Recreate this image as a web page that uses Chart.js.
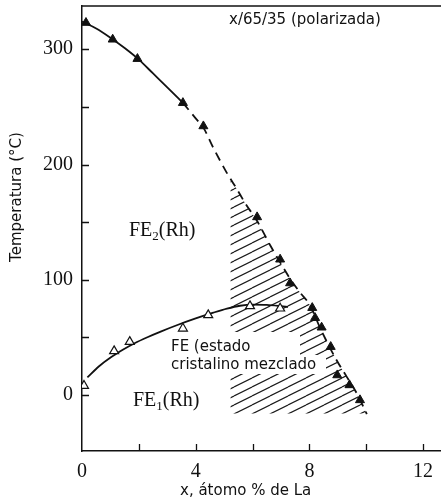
<!DOCTYPE html>
<html>
<head>
<meta charset="utf-8">
<script src="https://cdn.jsdelivr.net/npm/chart.js@4.4.1/dist/chart.umd.min.js"></script>
<style>
html,body{margin:0;padding:0;background:#fff;}
#wrap{position:relative;width:441px;height:501px;}
</style>
</head>
<body>
<div id="wrap"><canvas id="c" width="441" height="501"></canvas></div>
<script>
// ---- data ----
// FE2 transition (filled triangles)
const fe2MarkX = [0.14, 1.08, 1.95, 3.55, 4.27, 6.16, 6.97, 7.32, 8.10, 8.20, 8.43, 8.75, 8.98, 9.41, 9.78];
const fe2MarkY = [323, 308.5, 291.7, 253.5, 233.3, 154.4, 117.7, 97.1, 75.7, 67.0, 58.7, 41.9, 17.3, 8.7, -4.3];
// FE1 transition (open triangles)
const fe1MarkX = [0.07, 1.13, 1.68, 3.55, 4.44, 5.91, 6.97];
const fe1MarkY = [8.1, 38.2, 46.2, 57.8, 69.4, 77.2, 75.2];
// FE2 boundary curve: solid part
const fe2SolidX = [0, 0.5, 1, 1.5, 2, 2.5, 3, 3.55];
const fe2SolidY = [324, 318, 310, 301, 291, 279, 267, 253.5];
// FE2 boundary curve: dashed part
const fe2DashX = [3.55, 4.0, 4.27, 4.61, 5.09, 5.44, 5.74, 6.16, 6.62, 7.0, 7.32, 7.67, 8.02, 8.4, 8.94, 9.31, 9.7, 10.02];
const fe2DashY = [253.5, 240, 232, 215, 193, 179, 166.5, 151, 130, 114, 101, 89, 78, 57, 31, 16, 0, -16.5];
// FE1 boundary curve
const fe1CurveX = [0.19, 0.6, 1.03, 1.45, 1.85, 2.3, 2.79, 3.38, 4.0, 4.62, 5.1, 5.56, 6.0, 6.5, 7.0, 7.25];
const fe1CurveY = [15.4, 25, 33, 39.5, 45, 50.2, 55.3, 61, 66.5, 71.5, 75, 77.5, 78.5, 78.3, 77.2, 76.5];
// mixed-state hatched region (upper edge; filled down to hatchBase)
const hatchX = [5.22, 5.44, 5.74, 6.16, 6.62, 7.0, 7.32, 7.67, 8.02, 8.4, 8.94, 9.31, 9.7, 10.02];
const hatchY = [188, 179, 166.5, 151, 130, 114, 101, 89, 78, 57, 31, 16, 0, -16.5];
const hatchBase = -16;
// axes
const xMin = 0, xMax = 12.63, yMin = -48.5, yMax = 337.5;
const xTickLabels = [0, 4, 8, 12];
const yTickLabels = [0, 100, 200, 300];
const xTickMarks = [2, 4, 6, 8, 10, 12];
const yTickMarks = [0, 50, 100, 150, 200, 250, 300];
const xTitle = 'x, átomo % de La';
const yTitle = 'Temperatura (°C)';
const boxTitle = 'x/65/35 (polarizada)';
const mixedLabel = ['FE (estado', 'cristalino mezclado'];

const pts = (xs, ys) => xs.map((x, i) => ({x: x, y: ys[i]}));

function makeHatch() {
  const c = document.createElement('canvas');
  c.width = 18; c.height = 9;
  const g = c.getContext('2d');
  g.strokeStyle = '#1a1a1a';
  g.lineWidth = 1.15;
  for (const k of [-1, 0, 1]) {
    g.beginPath();
    g.moveTo(0, 9 + 9 * k);
    g.lineTo(18, 0 + 9 * k);
    g.stroke();
  }
  return g.createPattern(c, 'repeat');
}

const SANS = '"DejaVu Sans", sans-serif';
const SERIF = '"Liberation Serif", "Times New Roman", serif';

function drawSubLabel(ctx, x, y, a, sub, b) {
  ctx.font = '20px ' + SERIF;
  ctx.textAlign = 'left';
  ctx.textBaseline = 'alphabetic';
  ctx.fillText(a, x, y);
  let w = ctx.measureText(a).width;
  ctx.font = '13px ' + SERIF;
  ctx.fillText(sub, x + w, y + 4);
  w += ctx.measureText(sub).width;
  ctx.font = '20px ' + SERIF;
  ctx.fillText(b, x + w, y);
}

const decor = {
  id: 'decor',
  afterDatasetDraw(chart, args) {
    if (args.index !== 5) return;
    const ctx = chart.ctx;
    ctx.save();
    ctx.fillStyle = '#ffffff';
    ctx.fillRect(168, 332, 132, 23);
    ctx.fillRect(168, 355, 158, 19);
    ctx.restore();
  },
  afterDraw(chart) {
    const ctx = chart.ctx;
    const a = chart.chartArea;
    const xs = chart.scales.x, ys = chart.scales.y;
    ctx.save();
    ctx.strokeStyle = '#111';
    // top frame
    ctx.lineWidth = 1.5;
    ctx.beginPath();
    ctx.moveTo(a.left, a.top);
    ctx.lineTo(a.right, a.top);
    ctx.stroke();
    // inward ticks
    ctx.lineWidth = 1.3;
    ctx.beginPath();
    for (const v of yTickMarks) {
      const p = Math.round(ys.getPixelForValue(v)) + 0.5;
      ctx.moveTo(a.left, p);
      ctx.lineTo(a.left + 7, p);
    }
    for (const v of xTickMarks) {
      const p = Math.round(xs.getPixelForValue(v)) + 0.5;
      ctx.moveTo(p, a.bottom);
      ctx.lineTo(p, a.bottom - 7);
    }
    ctx.stroke();
    // texts
    ctx.fillStyle = '#111';
    drawSubLabel(ctx, 129, 236, 'FE', '2', '(Rh)');
    drawSubLabel(ctx, 133, 406, 'FE', '1', '(Rh)');
    ctx.font = '15px ' + SANS;
    ctx.textAlign = 'left';
    ctx.textBaseline = 'alphabetic';
    ctx.fillText(boxTitle, 229, 24);
    ctx.fillText(xTitle, 180, 495);
    ctx.fillText(mixedLabel[0], 171, 351);
    ctx.fillText(mixedLabel[1], 171, 369);
    ctx.save();
    ctx.translate(21, 197);
    ctx.rotate(-Math.PI / 2);
    ctx.textAlign = 'center';
    ctx.font = '15px ' + SANS;
    ctx.fillText(yTitle, 0, 0);
    ctx.restore();
    ctx.restore();
  }
};

new Chart(document.getElementById('c'), {
  type: 'scatter',
  data: {
    datasets: [
      { data: pts(fe2MarkX, fe2MarkY), pointStyle: 'triangle', pointRadius: 5.2,
        backgroundColor: '#111', borderColor: '#111', borderWidth: 1, showLine: false, order: 0 },
      { data: pts(fe1MarkX, fe1MarkY), pointStyle: 'triangle', pointRadius: 5.2,
        backgroundColor: '#fff', borderColor: '#111', borderWidth: 1.2, showLine: false, order: 0 },
      { data: pts(fe2SolidX, fe2SolidY), showLine: true, pointRadius: 0, borderColor: '#111',
        borderWidth: 1.8, cubicInterpolationMode: 'monotone', order: 1 },
      { data: pts(fe2DashX, fe2DashY), showLine: true, pointRadius: 0, borderColor: '#111',
        borderWidth: 1.8, borderDash: [9, 6], cubicInterpolationMode: 'monotone', order: 1 },
      { data: pts(fe1CurveX, fe1CurveY), showLine: true, pointRadius: 0, borderColor: '#111',
        borderWidth: 1.8, cubicInterpolationMode: 'monotone', order: 1 },
      { data: pts(hatchX, hatchY), showLine: true, pointRadius: 0, borderWidth: 0,
        borderColor: 'rgba(0,0,0,0)', backgroundColor: makeHatch(), fill: {value: hatchBase},
        tension: 0, order: 5 }
    ]
  },
  options: {
    responsive: false,
    animation: false,
    events: [],
    layout: { autoPadding: false, padding: { top: 6, left: 0, right: 0, bottom: 0 } },
    plugins: { legend: { display: false }, tooltip: { enabled: false } },
    scales: {
      x: {
        type: 'linear', min: xMin, max: xMax,
        grid: { display: false, drawTicks: false },
        border: { display: true, color: '#111', width: 1.5 },
        afterFit: s => { s.height = 50; s.paddingLeft = 0; s.paddingRight = 0; },
        ticks: {
          includeBounds: false, stepSize: 2, autoSkip: false, maxRotation: 0, padding: 9,
          color: '#111', font: { family: SERIF, size: 20 },
          callback: v => xTickLabels.includes(v) ? String(v) : ''
        }
      },
      y: {
        type: 'linear', min: yMin, max: yMax,
        grid: { display: false, drawTicks: false },
        border: { display: true, color: '#111', width: 1.5 },
        afterFit: s => { s.width = 82; s.paddingTop = 0; s.paddingBottom = 0; },
        ticks: {
          includeBounds: false, stepSize: 50, autoSkip: false, padding: 9,
          color: '#111', font: { family: SERIF, size: 20 },
          callback: v => yTickLabels.includes(v) ? String(v) : ''
        }
      }
    }
  },
  plugins: [decor]
});
</script>
</body>
</html>
